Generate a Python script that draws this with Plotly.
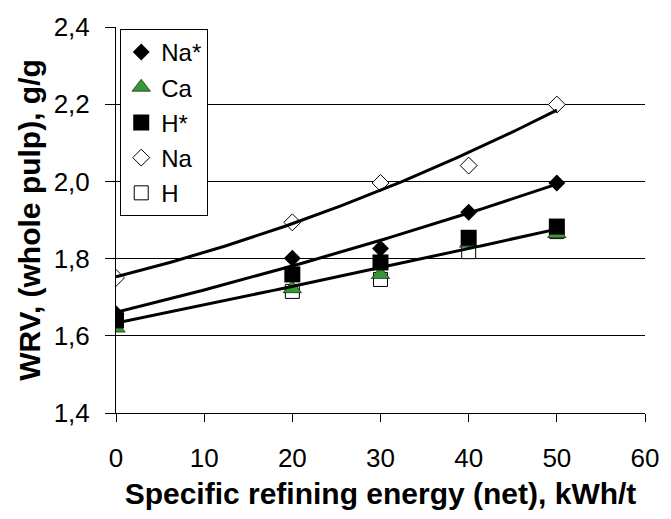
import numpy as np
import plotly.graph_objects as go

# Specific refining energy (net), kWh/t
energy = [0, 20, 30, 40, 50]

# WRV (whole pulp), g/g for each counter-ion form
wrv_na_star = [1.657, 1.801, 1.826, 1.920, 1.996]
wrv_ca = [1.620, 1.722, 1.759, 1.840, 1.865]
wrv_h_star = [1.640, 1.759, 1.790, 1.854, 1.883]
wrv_na = [1.750, 1.894, 1.996, 2.041, 2.199]
wrv_h = [1.640, 1.715, 1.746, 1.818, 1.870]

FONT = "Liberation Sans, Arial, sans-serif"


def poly_trend(xs, ys, n=101):
    """Second-order polynomial trend line over the measured energy range."""
    xs = np.asarray(xs, dtype=float)
    ys = np.asarray(ys, dtype=float)
    coef = np.polyfit(xs, ys, 2)
    xf = np.linspace(xs.min(), xs.max(), n)
    return xf, np.polyval(coef, xf)


fig = go.Figure()

# markers; later traces are drawn on top
series = [
    ("H", wrv_h, dict(symbol="square", size=14, color="white", line=dict(color="black", width=1)), 5),
    ("Ca", wrv_ca, dict(symbol="triangle-up", size=16, color="#339933", line=dict(color="black", width=0.6)), 2),
    ("H*", wrv_h_star, dict(symbol="square", size=16, color="black", line=dict(color="black", width=0)), 3),
    ("Na*", wrv_na_star, dict(symbol="diamond", size=13, color="black", line=dict(color="black", width=0)), 1),
    ("Na", wrv_na, dict(symbol="diamond", size=13, color="white", line=dict(color="black", width=1)), 4),
]
for name, vals, marker, rank in series:
    fig.add_trace(go.Scatter(
        x=energy, y=vals, name=name, mode="markers", marker=marker,
        legendrank=rank, legendgroup=name,
    ))

# trend lines: Na, Na* and the pooled Ca / H* / H data
pooled_x = energy * 3
pooled_y = wrv_ca + wrv_h_star + wrv_h
for xs, ys in [(energy, wrv_na), (energy, wrv_na_star), (pooled_x, pooled_y)]:
    xf, yf = poly_trend(xs, ys)
    fig.add_trace(go.Scatter(
        x=xf, y=yf, mode="lines", showlegend=False, hoverinfo="skip",
        line=dict(color="black", width=3),
    ))

fig.update_layout(
    width=671, height=519,
    margin=dict(l=116, r=16, t=19, b=106),
    paper_bgcolor="white", plot_bgcolor="white",
    separators=", ",
    font=dict(family=FONT, size=26, color="black"),
    showlegend=True,
    legend=dict(
        x=0.008, y=0.995, xanchor="left", yanchor="top",
        bgcolor="white", bordercolor="black", borderwidth=1,
        font=dict(family=FONT, size=24, color="black"),
        traceorder="grouped", tracegroupgap=1,
        itemwidth=30,
    ),
    xaxis=dict(
        range=[0, 60], dtick=10, tick0=0,
        showgrid=False, zeroline=False,
        showline=True, linecolor="black", linewidth=1,
        ticks="outside", ticklen=8, tickcolor="black",
        ticklabelstandoff=14,
        tickfont=dict(family=FONT, size=26),
        title=dict(text="<b>Specific refining energy (net), kWh/t</b>",
                   font=dict(family=FONT, size=30), standoff=10),
    ),
    yaxis=dict(
        range=[1.4, 2.4], dtick=0.2, tick0=1.4, tickformat=".1f",
        showgrid=True, gridcolor="black", gridwidth=1, zeroline=False,
        showline=True, linecolor="black", linewidth=1,
        ticks="outside", ticklen=10, tickcolor="black",
        ticklabelstandoff=10,
        tickfont=dict(family=FONT, size=26),
        title=dict(text="<b>WRV, (whole pulp), g/g</b>",
                   font=dict(family=FONT, size=30), standoff=4),
    ),
)

fig.write_html("out.html")
